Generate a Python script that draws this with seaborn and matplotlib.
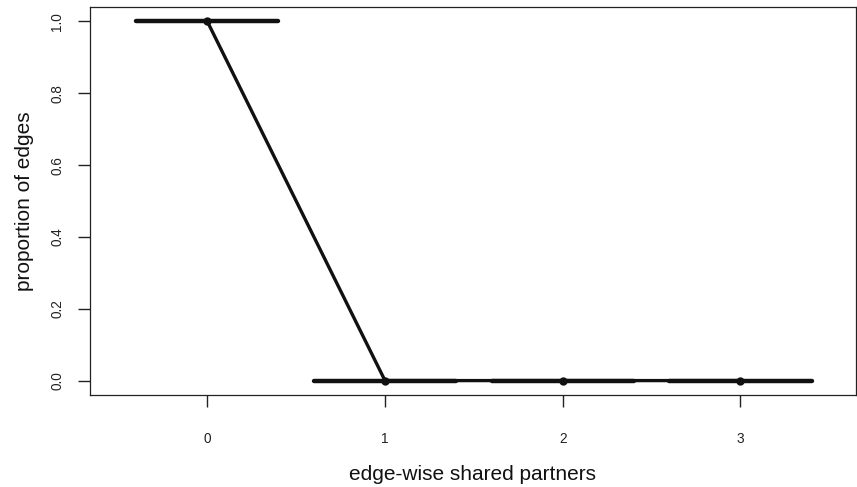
import matplotlib
matplotlib.use("Agg")
import matplotlib.pyplot as plt
import seaborn as sns
import pandas as pd

# edge-wise shared partner counts and proportions
esp = [0, 1, 2, 3]
observed = [1.0, 0.0, 0.0, 0.0]
sim_median = [1.0, 0.0, 0.0, 0.0]
y_ticks = [0.0, 0.2, 0.4, 0.6, 0.8, 1.0]

sns.set_theme(style="white")
plt.rcParams["font.family"] = ["Liberation Sans", "DejaVu Sans"]

fig = plt.figure(figsize=(8.57, 4.87), dpi=100)
ax = fig.add_axes([0.105, 0.189, 0.8938, 0.7966])

df = pd.DataFrame({"esp": esp, "observed": observed, "median": sim_median})

# simulated medians as wide horizontal bars around each count
ax.hlines(df["median"], df["esp"] - 0.4, df["esp"] + 0.4,
          color="#111111", linewidth=3.2, capstyle="round", zorder=2)

# observed statistics
sns.lineplot(data=df, x="esp", y="observed", ax=ax, color="#111111",
             linewidth=2.4, marker="o", markersize=6, markeredgewidth=0,
             zorder=3)

ax.set_xlim(-0.66, 3.65)
ax.set_ylim(-0.04, 1.04)
ax.set_xticks(esp)
ax.set_xticklabels([str(v) for v in esp])
ax.set_yticks(y_ticks)
ax.set_yticklabels([f"{v:.1f}" for v in y_ticks], rotation=90, va="center")

ax.tick_params(axis="both", direction="out", length=8.5, width=1.0,
               color="#222222", labelsize=9.8, labelcolor="#222222")
ax.tick_params(axis="x", pad=18)
ax.tick_params(axis="y", pad=10)
ax.xaxis.set_ticks_position("bottom")
ax.yaxis.set_ticks_position("left")

for sp in ax.spines.values():
    sp.set_visible(True)
    sp.set_color("#222222")
    sp.set_linewidth(0.9)

ax.set_xlabel("edge-wise shared partners", fontsize=15, color="#111111",
              labelpad=14)
ax.set_ylabel("proportion of edges", fontsize=15, color="#111111",
              labelpad=12)

fig.savefig("out.png", dpi=100)
